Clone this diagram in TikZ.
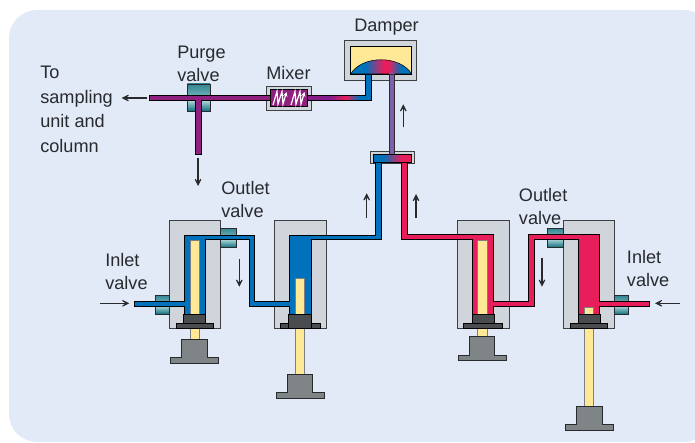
\documentclass[tikz,border=0pt]{standalone}
\usepackage{fontspec}
\setmainfont{Liberation Sans}
\usetikzlibrary{arrows.meta,positioning}
\definecolor{panel}{RGB}{226,233,247}
\definecolor{ink}{RGB}{40,42,46}
\definecolor{shell}{RGB}{207,213,218}
\definecolor{flowblue}{RGB}{0,114,188}
\definecolor{flowpink}{RGB}{232,30,92}
\definecolor{flowpurple}{RGB}{144,32,128}
\definecolor{riserleft}{RGB}{112,104,178}
\definecolor{riserright}{RGB}{150,84,155}
\definecolor{rodyellow}{RGB}{255,232,150}
\definecolor{headgrey}{RGB}{74,77,80}
\definecolor{footgrey}{RGB}{127,132,134}
\definecolor{tealdark}{RGB}{14,112,126}
\definecolor{teallight}{RGB}{216,238,238}
\definecolor{tealmid}{RGB}{120,182,188}
\pgfdeclarehorizontalshading{domeshade}{100bp}{color(0bp)=(flowblue); color(37bp)=(flowblue); color(52bp)=(flowpink); color(56bp)=(flowpink); color(66bp)=(flowblue); color(100bp)=(flowblue)}
\pgfdeclarehorizontalshading{mixshade}{100bp}{color(0bp)=(flowpurple); color(42bp)=(flowpurple!90!blue); color(55bp)=(flowpink); color(65bp)=(flowblue); color(100bp)=(flowblue)}
\pgfdeclarehorizontalshading{manifoldshade}{100bp}{color(0bp)=(flowblue); color(38bp)=(flowblue); color(62bp)=(flowpink); color(100bp)=(flowpink)}
\tikzset{
  >={Stealth[length=2.9mm,width=2.9mm,inset=1.9mm]},
  lbl/.style={font=\fontsize{13.6}{17}\selectfont,text=ink,align=left,inner sep=0pt},
  flowarrow/.style={->,line width=1pt,draw=ink},
  shellbox/.style={draw=ink!90,line width=.6pt,fill=shell},
  pipe/.style={draw=black,line width=.45pt,fill=#1},
  pipe/.default=flowblue,
  rod/.style={draw=ink!60,line width=.5pt,fill=rodyellow},
  head/.style={draw=black,line width=.5pt,fill=headgrey},
  pics/foot/.style={code={
    \draw[draw=ink,line width=.6pt,fill=footgrey] (-12.7,0) -- (12.7,0) -- (12.7,18.7) -- (24,18.7) -- (24,24.3)
      -- (-24,24.3) -- (-24,18.7) -- (-12.7,18.7) -- cycle;
  }},
}
\begin{document}
\begin{tikzpicture}[x=.75pt,y=-.75pt]
  \useasboundingbox (0,0) rectangle (695,442);
  \clip (0,0) rectangle (695,442);
  \fill[panel,rounded corners=21pt] (9,10) rectangle (712,442);

  % pump bodies and valves
  \foreach \px in {169,274.7,457.7,563.3}
    \draw[shellbox] (\px,220.7) rectangle ++(51.2,107.6);
  \foreach \xa/\xb/\ya/\ym/\yb in {187.3/210/84/98/111, 155/169/295/304/314, 220.7/236/228/237.5/247.3,
      547.3/563.3/228.3/237/247.3, 614.3/628.7/295.3/304/314.3} {
    \path[draw=ink,line width=.5pt,top color=tealdark!85,bottom color=tealmid] (\xa,\ya) rectangle (\xb,\ym);
    \path[draw=ink,line width=.5pt,top color=teallight,bottom color=tealdark] (\xb,\ym) rectangle (\xa,\yb);
  }

  % damper, manifold and mixer casings
  \draw[shellbox] (344.3,40.7) rectangle (416.7,80);
  \draw[draw=black,line width=.5pt,fill=rodyellow] (350.7,46) rectangle (411.7,74);
  \path[draw=black,line width=.4pt,shading=domeshade] (350.7,74) .. controls (362,55) and (400,55) .. (411.7,74) -- cycle;
  \draw[shellbox] (370.7,151.3) rectangle (414,163.3);
  \draw[shellbox] (266.7,86) rectangle (311,110);

  % flow lines
  \path[draw=ink,line width=.4pt,left color=riserleft,right color=riserright]
    (389,74) rectangle (394.3,154.3);
  \path[draw=black,line width=.4pt,shading=manifoldshade] (373.3,154.3) rectangle (411,162);
  \draw[pipe=flowpurple] (149,95.3) -- (270,95.3) -- (270,100.7) -- (201.3,100.7) -- (201.3,154.3) -- (195.3,154.3)
    -- (195.3,100.7) -- (149,100.7) -- cycle;
  \path[draw=black,line width=.45pt,shading=mixshade] (307.7,95.3) -- (365.7,95.3) -- (365.7,74) -- (371.7,74) -- (371.7,100.7)
    -- (307.7,100.7) -- cycle;
  \draw[pipe=flowblue] (134.3,301.3) -- (184.7,301.3) -- (184.7,235) -- (254.3,235) -- (254.3,301.3) -- (289.7,301.3)
    -- (289.7,235) -- (375.7,235) -- (375.7,162) -- (381.7,162) -- (381.7,239.7) -- (311.3,239.7) -- (311.3,314)
    -- (289.7,314) -- (289.7,306.7) -- (249,306.7) -- (249,239.7) -- (205.3,239.7) -- (205.3,314) -- (184.7,314)
    -- (184.7,306.7) -- (134.3,306.7) -- cycle;
  \draw[pipe=flowpink] (401.7,162) -- (407.3,162) -- (407.3,234.3) -- (493.3,234.3) -- (493.3,301) -- (528.7,301)
    -- (528.7,234.3) -- (599.3,234.3) -- (599.3,301) -- (649,301) -- (649,306.3) -- (599.3,306.3) -- (599.3,314)
    -- (578.7,314) -- (578.7,239.7) -- (534.3,239.7) -- (534.3,306.3) -- (493.3,306.3) -- (493.3,314) -- (472.7,314)
    -- (472.7,239.7) -- (401.7,239.7) -- cycle;

  % mixer element
  \draw[draw=black,line width=.5pt,fill=flowpurple] (270,89.3) rectangle (307.7,106.7);
  \foreach \mx in {273,291}
    \draw[white,line width=.9pt,-{Stealth[length=1.2mm,width=1.2mm]}] (\mx,105) -- (\mx+4,91.5) -- (\mx+5,104) -- (\mx+9,91.5)
      -- (\mx+10,104) -- (\mx+13.5,92);

  % pistons
  \foreach \xa/\ya/\yb in {190.3/240.3/339, 295.3/278.3/374, 477.7/240.3/336.3, 584/307.3/406}
    \draw[rod] (\xa,\ya) rectangle (\xa+9.5,\yb);
  \foreach \xa/\xb in {176.3/213.7, 280.3/320.7, 463.3/502.7, 570/607.3}
    \draw[head] (\xa,323.3) rectangle (\xb,328.3);
  \draw[head] (183.3,314) rectangle (205.3,323.3);
  \draw[head] (288.7,314) rectangle (311.7,328.3);
  \draw[head] (472,314) rectangle (494.7,323.3);
  \draw[head] (578,314) rectangle (600,323.3);
  \pic at (194.3,339) {foot};
  \pic at (300,374) {foot};
  \pic at (482,336.3) {foot};
  \pic at (589.3,406) {foot};

  % flow arrows
  \foreach \xa/\ya/\xb/\yb in {147.3/98/121.7/98, 198/158/198/186, 403.3/127.3/403.3/104.3, 366.7/218.3/366.7/193.3,
      239.3/259.3/239.3/286.7, 100/303.3/129.3/303.3, 416/218.3/416/194, 542/258.3/542/286.7, 680/303.3/655/303.3}
    \draw[flowarrow] (\xa,\ya) -- (\xb,\yb);

  % labels
  \node[lbl,font=\fontsize{13.6}{18.4}\selectfont,anchor=north west] (sampling) at (40,66) {To\\sampling\\unit and\\column};
  \node[lbl,anchor=north west] (purge) at (177,46) {Purge\\valve};
  \node[lbl,anchor=north west] (mixer) at (266,66) {Mixer};
  \node[lbl,anchor=north west] (damper) at (354,19) {Damper};
  \node[lbl,anchor=north west] (outletl) at (221,181) {Outlet\\valve};
  \node[lbl,anchor=north west] (inletl) at (105,253) {Inlet\\valve};
  \node[lbl,anchor=north west] (outletr) at (518.7,188) {Outlet\\valve};
  \node[lbl,anchor=north west] (inletr) at (626.7,250) {Inlet\\valve};
\end{tikzpicture}
\end{document}
